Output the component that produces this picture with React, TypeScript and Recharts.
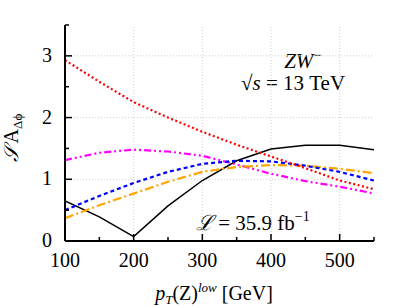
import React from 'react';
import { LineChart, Line, XAxis, YAxis, ReferenceLine, Customized } from 'recharts';

const SERIF = 'Liberation Serif';
const textStyle = { fontFamily: SERIF };

// pT(Z)^low [GeV]
const ptLow = [100, 150, 200, 250, 300, 350, 400, 450, 500, 550];
const blackSolid = [0.65, 0.39, 0.07, 0.57, 0.98, 1.3, 1.49, 1.55, 1.55, 1.48];
const redDotted = [2.93, 2.58, 2.25, 2.0, 1.77, 1.56, 1.37, 1.18, 0.98, 0.84];
const blueDashed = [0.5, 0.73, 0.94, 1.12, 1.25, 1.3, 1.29, 1.22, 1.12, 0.98];
const orangeDashDot = [0.37, 0.58, 0.77, 0.96, 1.12, 1.2, 1.23, 1.22, 1.17, 1.1];
const magentaDashDotDot = [1.31, 1.43, 1.48, 1.45, 1.38, 1.24, 1.09, 0.97, 0.88, 0.77];

const xTicks = [100, 150, 200, 250, 300, 350, 400, 450, 500, 550];
const yTicks = [0, 0.5, 1, 1.5, 2, 2.5, 3, 3.5];
const xGrid = [200, 300, 400, 500];
const yGrid = [1, 2, 3];

const data = ptLow.map((pt, i) => ({
  pt,
  black: blackSolid[i],
  red: redDotted[i],
  blue: blueDashed[i],
  orange: orangeDashDot[i],
  magenta: magentaDashDotDot[i],
}));

const BottomTick = (props: any) => {
  const { x, y, payload } = props;
  const major = payload.value % 100 === 0;
  return (
    <g>
      <line x1={x} y1={y} x2={x} y2={y - (major ? 7 : 4)} stroke="#000" strokeWidth={1.5} />
      {major && (
        <text x={x} y={y + 26} textAnchor="middle" style={textStyle} fontSize={20} fill="#000">
          {payload.value}
        </text>
      )}
    </g>
  );
};

const TopTick = (props: any) => {
  const { x, y, payload } = props;
  const major = payload.value % 100 === 0;
  return <line x1={x} y1={y} x2={x} y2={y + (major ? 7 : 4)} stroke="#000" strokeWidth={1.5} />;
};

const LeftTick = (props: any) => {
  const { x, y, payload } = props;
  const major = Number.isInteger(payload.value);
  return (
    <g>
      <line x1={x} y1={y} x2={x + (major ? 7 : 4)} y2={y} stroke="#000" strokeWidth={1.5} />
      {major && (
        <text x={x - 13} y={y + 6} textAnchor="end" style={textStyle} fontSize={20} fill="#000">
          {payload.value}
        </text>
      )}
    </g>
  );
};

const RightTick = (props: any) => {
  const { x, y, payload } = props;
  const major = Number.isInteger(payload.value);
  return <line x1={x} y1={y} x2={x - (major ? 7 : 4)} y2={y} stroke="#000" strokeWidth={1.5} />;
};

const Labels = () => (
  <g style={textStyle} fill="#000">
    <text x={18} y={138} fontSize={20} textAnchor="middle" transform="rotate(-90 18 138)" style={textStyle}>
      <tspan fontStyle="italic">𝒮</tspan>
      <tspan> A</tspan>
      <tspan fontSize={13} dy={4}>Δϕ</tspan>
    </text>
    <text x={214} y={300} fontSize={20} textAnchor="middle" style={textStyle}>
      <tspan fontStyle="italic">p</tspan>
      <tspan fontStyle="italic" fontSize={13} dy={4}>T</tspan>
      <tspan dy={-4}>(Z)</tspan>
      <tspan fontStyle="italic" fontSize={13} dy={-8}>low</tspan>
      <tspan dy={8}>{'\u00a0[GeV]'}</tspan>
    </text>
    <text x={303} y={68} fontSize={21} textAnchor="middle" style={textStyle}>
      <tspan fontStyle="italic">ZW</tspan>
      <tspan fontSize={15} dy={-8}>−</tspan>
    </text>
    <text x={293} y={90} fontSize={21} textAnchor="middle" style={textStyle}>
      <tspan>√</tspan>
      <tspan fontStyle="italic">s</tspan>
      <tspan>{'\u00a0=\u00a013\u00a0TeV'}</tspan>
    </text>
    <text x={196} y={230} fontSize={21} style={textStyle}>
      <tspan fontStyle="italic">ℒ</tspan>
      <tspan>{'\u00a0=\u00a035.9\u00a0fb'}</tspan>
      <tspan fontSize={14} dy={-9}>−1</tspan>
    </text>
  </g>
);

export default function App() {
  return (
    <div style={{ position: 'absolute', left: 0, top: 0, width: 412, height: 308, background: '#fff', fontFamily: SERIF }}>
      <LineChart width={412} height={308} data={data} margin={{ top: 25, right: 38, bottom: 0, left: 0 }}>
        {xGrid.map((v) => (
          <ReferenceLine key={`gx-${v}`} x={v} stroke="#cfcfcf" strokeDasharray="1 2" />
        ))}
        {yGrid.map((v) => (
          <ReferenceLine key={`gy-${v}`} y={v} stroke="#cfcfcf" strokeDasharray="1 2" />
        ))}
        <XAxis
          dataKey="pt"
          type="number"
          domain={[100, 550]}
          ticks={xTicks}
          interval={0}
          height={67}
          tickSize={0}
          tickMargin={0}
          tickLine={false}
          axisLine={{ stroke: '#000', strokeWidth: 2 }}
          tick={<BottomTick />}
          allowDataOverflow
        />
        <XAxis
          xAxisId="top"
          orientation="top"
          dataKey="pt"
          type="number"
          domain={[100, 550]}
          ticks={xTicks}
          interval={0}
          height={0}
          tickSize={0}
          tickMargin={0}
          tickLine={false}
          axisLine={{ stroke: '#000', strokeWidth: 2 }}
          tick={<TopTick />}
          allowDataOverflow
        />
        <YAxis
          type="number"
          domain={[0, 3.5]}
          ticks={yTicks}
          interval={0}
          width={65}
          tickSize={0}
          tickMargin={0}
          tickLine={false}
          axisLine={{ stroke: '#000', strokeWidth: 2 }}
          tick={<LeftTick />}
          allowDataOverflow
        />
        <YAxis
          yAxisId="right"
          orientation="right"
          type="number"
          domain={[0, 3.5]}
          ticks={yTicks}
          interval={0}
          width={0}
          tickSize={0}
          tickMargin={0}
          tickLine={false}
          axisLine={{ stroke: '#000', strokeWidth: 2 }}
          tick={<RightTick />}
          allowDataOverflow
        />
        <Line dataKey="black" stroke="#000" strokeWidth={1.5} dot={false} isAnimationActive={false} />
        <Line dataKey="magenta" stroke="#ff00ff" strokeWidth={2.2} strokeDasharray="7 3 2 3 2 3" dot={false} isAnimationActive={false} />
        <Line dataKey="orange" stroke="#ffa500" strokeWidth={2.2} strokeDasharray="9 3 2 3" dot={false} isAnimationActive={false} />
        <Line dataKey="blue" stroke="#0000ff" strokeWidth={2.2} strokeDasharray="4 3" dot={false} isAnimationActive={false} />
        <Line dataKey="red" stroke="#ff0000" strokeWidth={2.2} strokeDasharray="2 2.5" dot={false} isAnimationActive={false} />
        <Customized component={Labels} />
      </LineChart>
    </div>
  );
}
